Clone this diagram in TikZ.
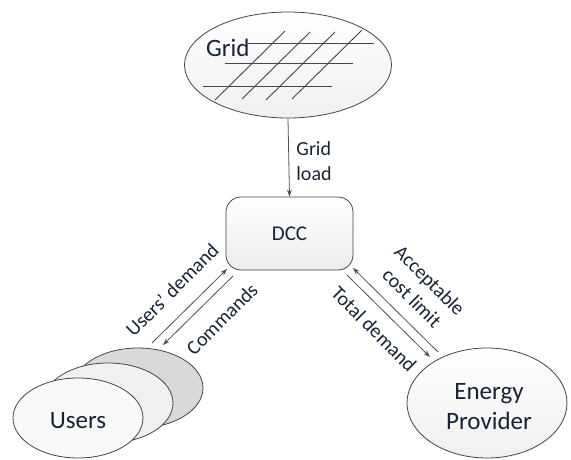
\documentclass[tikz,border=0pt]{standalone}
\usepackage{fontspec}
\setmainfont{Carlito}
\usetikzlibrary{arrows.meta,shapes.geometric}
\definecolor{txt}{HTML}{1A2238}
\definecolor{edge}{HTML}{454545}
\definecolor{arr}{HTML}{505050}
\begin{document}
\begin{tikzpicture}[x=1pt,y=-1pt,
  shape outline/.style={draw=edge, line width=0.8pt},
  ellbox/.style={shape outline, ellipse, inner sep=0pt},
  bigtext/.style={text=txt, font=\fontsize{25}{30}\selectfont},
  midtext/.style={text=txt, font=\fontsize{20}{25}\selectfont},
  flow/.style={draw=arr, line width=0.8pt, -{Stealth[length=7pt,width=5pt]}},
  hatch/.style={draw=edge, line width=0.9pt}]
\useasboundingbox (0,0) rectangle (571,460);
% Grid
\node[ellbox, top color=white, bottom color=gray!12, minimum width=207pt, minimum height=106pt] (grid) at (288,65) {};
\draw[hatch] (248,43) -- (374,43);
\draw[hatch] (225,63) -- (353,63);
\draw[hatch] (203,86) -- (332,86);
\draw[hatch] (215,100) -- (285,31);
\draw[hatch] (242,99) -- (310,32);
\draw[hatch] (266,100) -- (335,32);
\draw[hatch] (292,99) -- (362,30);
\node[bigtext, anchor=base west, inner sep=0pt] (gridlbl) at (206,57) {Grid};
% DCC
\node[shape outline, rectangle, rounded corners=15pt, top color=white, bottom color=gray!15, minimum width=127pt, minimum height=73pt, text=txt, font=\fontsize{21}{25}\selectfont] (dcc) at (289.5,233.5) {DCC};
\draw[flow] (grid.south) -- (dcc.north);
\node[midtext, align=left, inner sep=0pt] (gload) at (314,161) {Grid\\load};
% Users
\node[ellbox, fill=gray!30, minimum width=130pt, minimum height=80pt] (u3) at (138,388) {};
\node[ellbox, fill=gray!12, minimum width=130pt, minimum height=80pt] (u2) at (108,403) {};
\node[ellbox, fill=gray!5, minimum width=130pt, minimum height=80pt] (users) at (78,418) {};
\node[bigtext] (userslbl) at (78,421) {Users};
% Energy provider
\node[ellbox, top color=white, bottom color=gray!12, minimum width=160pt, minimum height=110pt] (prov) at (487,403) {};
\node[bigtext, align=center] (provlbl) at (489,407) {Energy\\Provider};
% connector end points
\coordinate (ua) at (152,343); \coordinate (da) at (227,269);
\coordinate (db) at (233,276); \coordinate (ub) at (163,345);
\coordinate (pa) at (438,352); \coordinate (dc) at (353,268);
\coordinate (dd) at (347,275); \coordinate (pb) at (430,357);
\draw[flow] (ua) -- (da);
\draw[flow] (db) -- (ub);
\draw[flow] (pa) -- (dc);
\draw[flow] (dd) -- (pb);
\node[midtext, rotate=45, inner sep=0pt] (ludem) at (172,290) {Users’ demand};
\node[midtext, rotate=45, inner sep=0pt] (lcmd) at (222,319) {Commands};
\node[midtext, rotate=-45, align=center, inner sep=0pt] (lacc) at (421,289) {Acceptable\\cost limit};
\node[midtext, rotate=-45, inner sep=0pt] (ltot) at (374,329) {Total demand};
\end{tikzpicture}
\end{document}
